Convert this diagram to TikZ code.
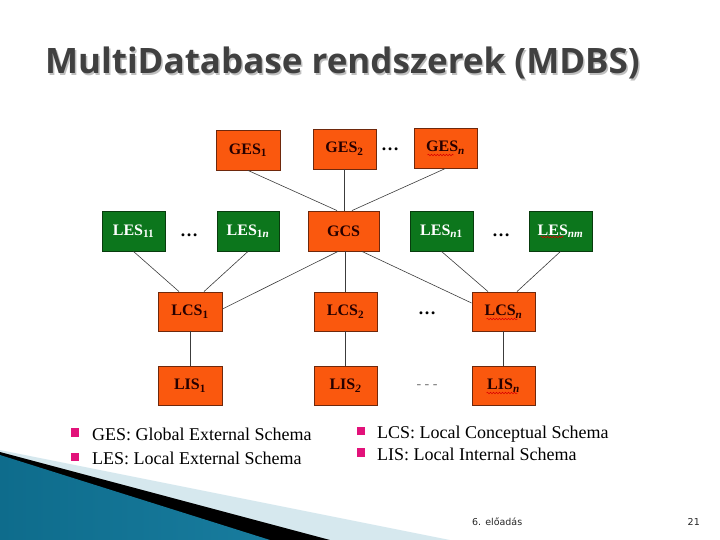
\documentclass[tikz,border=0pt]{standalone}
\usepackage{fontspec}
\setmainfont{Liberation Serif}
\newfontfamily\titlefont{Open Sans}
\newfontfamily\footfont{DejaVu Sans}
\usetikzlibrary{decorations.pathmorphing,calc}

\definecolor{boxorange}{RGB}{250,88,14}
\definecolor{boxorangeline}{RGB}{110,40,12}
\definecolor{boxgreen}{RGB}{12,118,28}
\definecolor{boxgreenline}{RGB}{8,60,14}
\definecolor{legendpink}{RGB}{226,18,122}
\definecolor{titlegray}{RGB}{64,64,64}
\definecolor{edgegray}{RGB}{60,60,60}
\definecolor{paleblue}{RGB}{214,232,238}
\definecolor{tealdark}{RGB}{14,108,140}
\definecolor{teallight}{RGB}{80,180,214}
\definecolor{tealmid}{RGB}{24,124,158}

\begin{document}
\begin{tikzpicture}[x=1pt,y=-1pt,
  obox/.style={draw=boxorangeline, fill=boxorange, line width=0.9pt, minimum width=63pt, minimum height=40pt, inner sep=0pt, font=\fontsize{16}{18}\selectfont\bfseries, text=black!85!red},
  gbox/.style={obox, draw=boxgreenline, fill=boxgreen, text=white},
  link/.style={draw=edgegray, line width=0.6pt},
  dotsmark/.style={font=\fontsize{18}{20}\selectfont\bfseries, inner sep=0pt},
  wavy/.style={draw=red!85!black, line width=0.5pt, decorate, decoration={snake, segment length=3pt, amplitude=0.8pt}},
  legtext/.style={anchor=base west, inner sep=0pt, font=\fontsize{18}{20}\selectfont},
]
\useasboundingbox (0,0) rectangle (720,540);

% bottom-left decoration
\fill[paleblue] (0,450) -- (450,540) -- (0,540) -- cycle;
\fill[black] (0,452) -- (330,540) -- (0,540) -- cycle;
\shade[left color=tealdark, middle color=teallight, right color=tealmid] (0,455) -- (270,540) -- (0,540) -- cycle;

% title
\node[anchor=base west, inner sep=0pt, text=black!25, font=\titlefont\bfseries\fontsize{35}{40}\selectfont] (titleshadow) at (46.5,75.5) {MultiDatabase rendszerek (MDBS)};
\node[anchor=base west, inner sep=0pt, text=titlegray, font=\titlefont\bfseries\fontsize{35}{40}\selectfont] (title) at (45,74) {MultiDatabase rendszerek (MDBS)};

% boxes
\node[obox, minimum width=64pt] (GES1) at (248,150) {GES\textsubscript{1}};
\node[obox] (GES2) at (344.5,149) {GES\textsubscript{2}};
\node[obox] (GESn) at (445.5,148) {GES\textsubscript{\textit{n}}};

\node[gbox] (LES11) at (133.5,231) {LES\textsubscript{11}};
\node[gbox, minimum width=62pt] (LES1n) at (248,231) {LES\textsubscript{1\textit{n}}};
\node[obox, minimum width=71pt] (GCS) at (343.5,231) {GCS};
\node[gbox] (LESn1) at (441.5,231) {LES\textsubscript{\textit{n}1}};
\node[gbox] (LESnm) at (560.5,231) {LES\textsubscript{\textit{nm}}};

\node[obox, minimum width=64pt, minimum height=39pt] (LCS1) at (190,311.5) {LCS\textsubscript{1}};
\node[obox, minimum height=39pt] (LCS2) at (345.5,311.5) {LCS\textsubscript{2}};
\node[obox, minimum height=39pt] (LCSn) at (503.5,311.5) {LCS\textsubscript{\textit{n}}};

\node[obox, minimum width=64pt, minimum height=39pt] (LIS1) at (190,385.5) {LIS\textsubscript{1}};
\node[obox, minimum height=39pt] (LIS2) at (345.5,385.5) {LIS\textsubscript{\textit{2}}};
\node[obox, minimum height=39pt] (LISn) at (503.5,385.5) {LIS\textsubscript{\textit{n}}};

% spell-check wavy underlines
\draw[wavy] ($(GESn.center)+(-18,7)$) -- ($(GESn.center)+(8,7)$);
\draw[wavy] ($(LESnm.center)+(-20,6)$) -- ($(LESnm.center)+(3,6)$);
\draw[wavy] ($(LCSn.center)+(-17,7.5)$) -- ($(LCSn.center)+(14,7.5)$);
\draw[wavy] ($(LISn.center)+(-17,7.5)$) -- ($(LISn.center)+(14,7.5)$);

% dots
\node[dotsmark] (d1) at (390,149) {\ldots};
\node[dotsmark] (d2) at (189,235) {\ldots};
\node[dotsmark] (d3) at (501,235) {\ldots};
\node[dotsmark] (d4) at (427,313) {\ldots};
\node[dotsmark, font=\fontsize{14}{16}\selectfont, text=black!55] (d5) at (427,387) {- - -};

% connectors
\draw[link] (GES1.south) -- ([xshift=-6.5pt]GCS.north);
\draw[link] (GES2.south) -- (GES2.south |- GCS.north);
\draw[link] (GESn.south) -- ([xshift=8.5pt]GCS.north);

\draw[link] (LES11.south) -- ([xshift=-11pt]LCS1.north);
\draw[link] (LES1n.south) -- ([xshift=14pt]LCS1.north);
\draw[link] ([xshift=-5.5pt]GCS.south) -- ([yshift=2.5pt]LCS1.east);
\draw[link] (LCS2.north) -- (LCS2.north |- GCS.south);
\draw[link] ([xshift=18.5pt]GCS.south) -- ([yshift=8.5pt]LCSn.west);
\draw[link] (LESn1.south) -- ([xshift=-15.5pt]LCSn.north);
\draw[link] (LESnm.south) -- ([xshift=13.5pt]LCSn.north);

\draw[link] (LCS1.south) -- (LIS1.north);
\draw[link] (LCS2.south) -- (LIS2.north);
\draw[link] (LCSn.south) -- (LISn.north);

% legend
\fill[legendpink] (71,428) rectangle (79,437);
\fill[legendpink] (71,453) rectangle (79,461);
\fill[legendpink] (357,427) rectangle (365,435);
\fill[legendpink] (357,448) rectangle (365,457);
\node[legtext] (lg1) at (92,440) {GES: Global External Schema};
\node[legtext] (lg2) at (92,464) {LES: Local External Schema};
\node[legtext] (lg3) at (377,438) {LCS: Local Conceptual Schema};
\node[legtext] (lg4) at (377,460) {LIS: Local Internal Schema};

% footer
\node[anchor=base west, inner sep=0pt, text=black!85, font=\footfont\fontsize{9.5}{11}\selectfont] (foot) at (472,525) {6. előadás};
\node[anchor=base east, inner sep=0pt, text=black!85, font=\footfont\fontsize{9.5}{11}\selectfont] (page) at (700,525) {21};
\end{tikzpicture}
\end{document}
